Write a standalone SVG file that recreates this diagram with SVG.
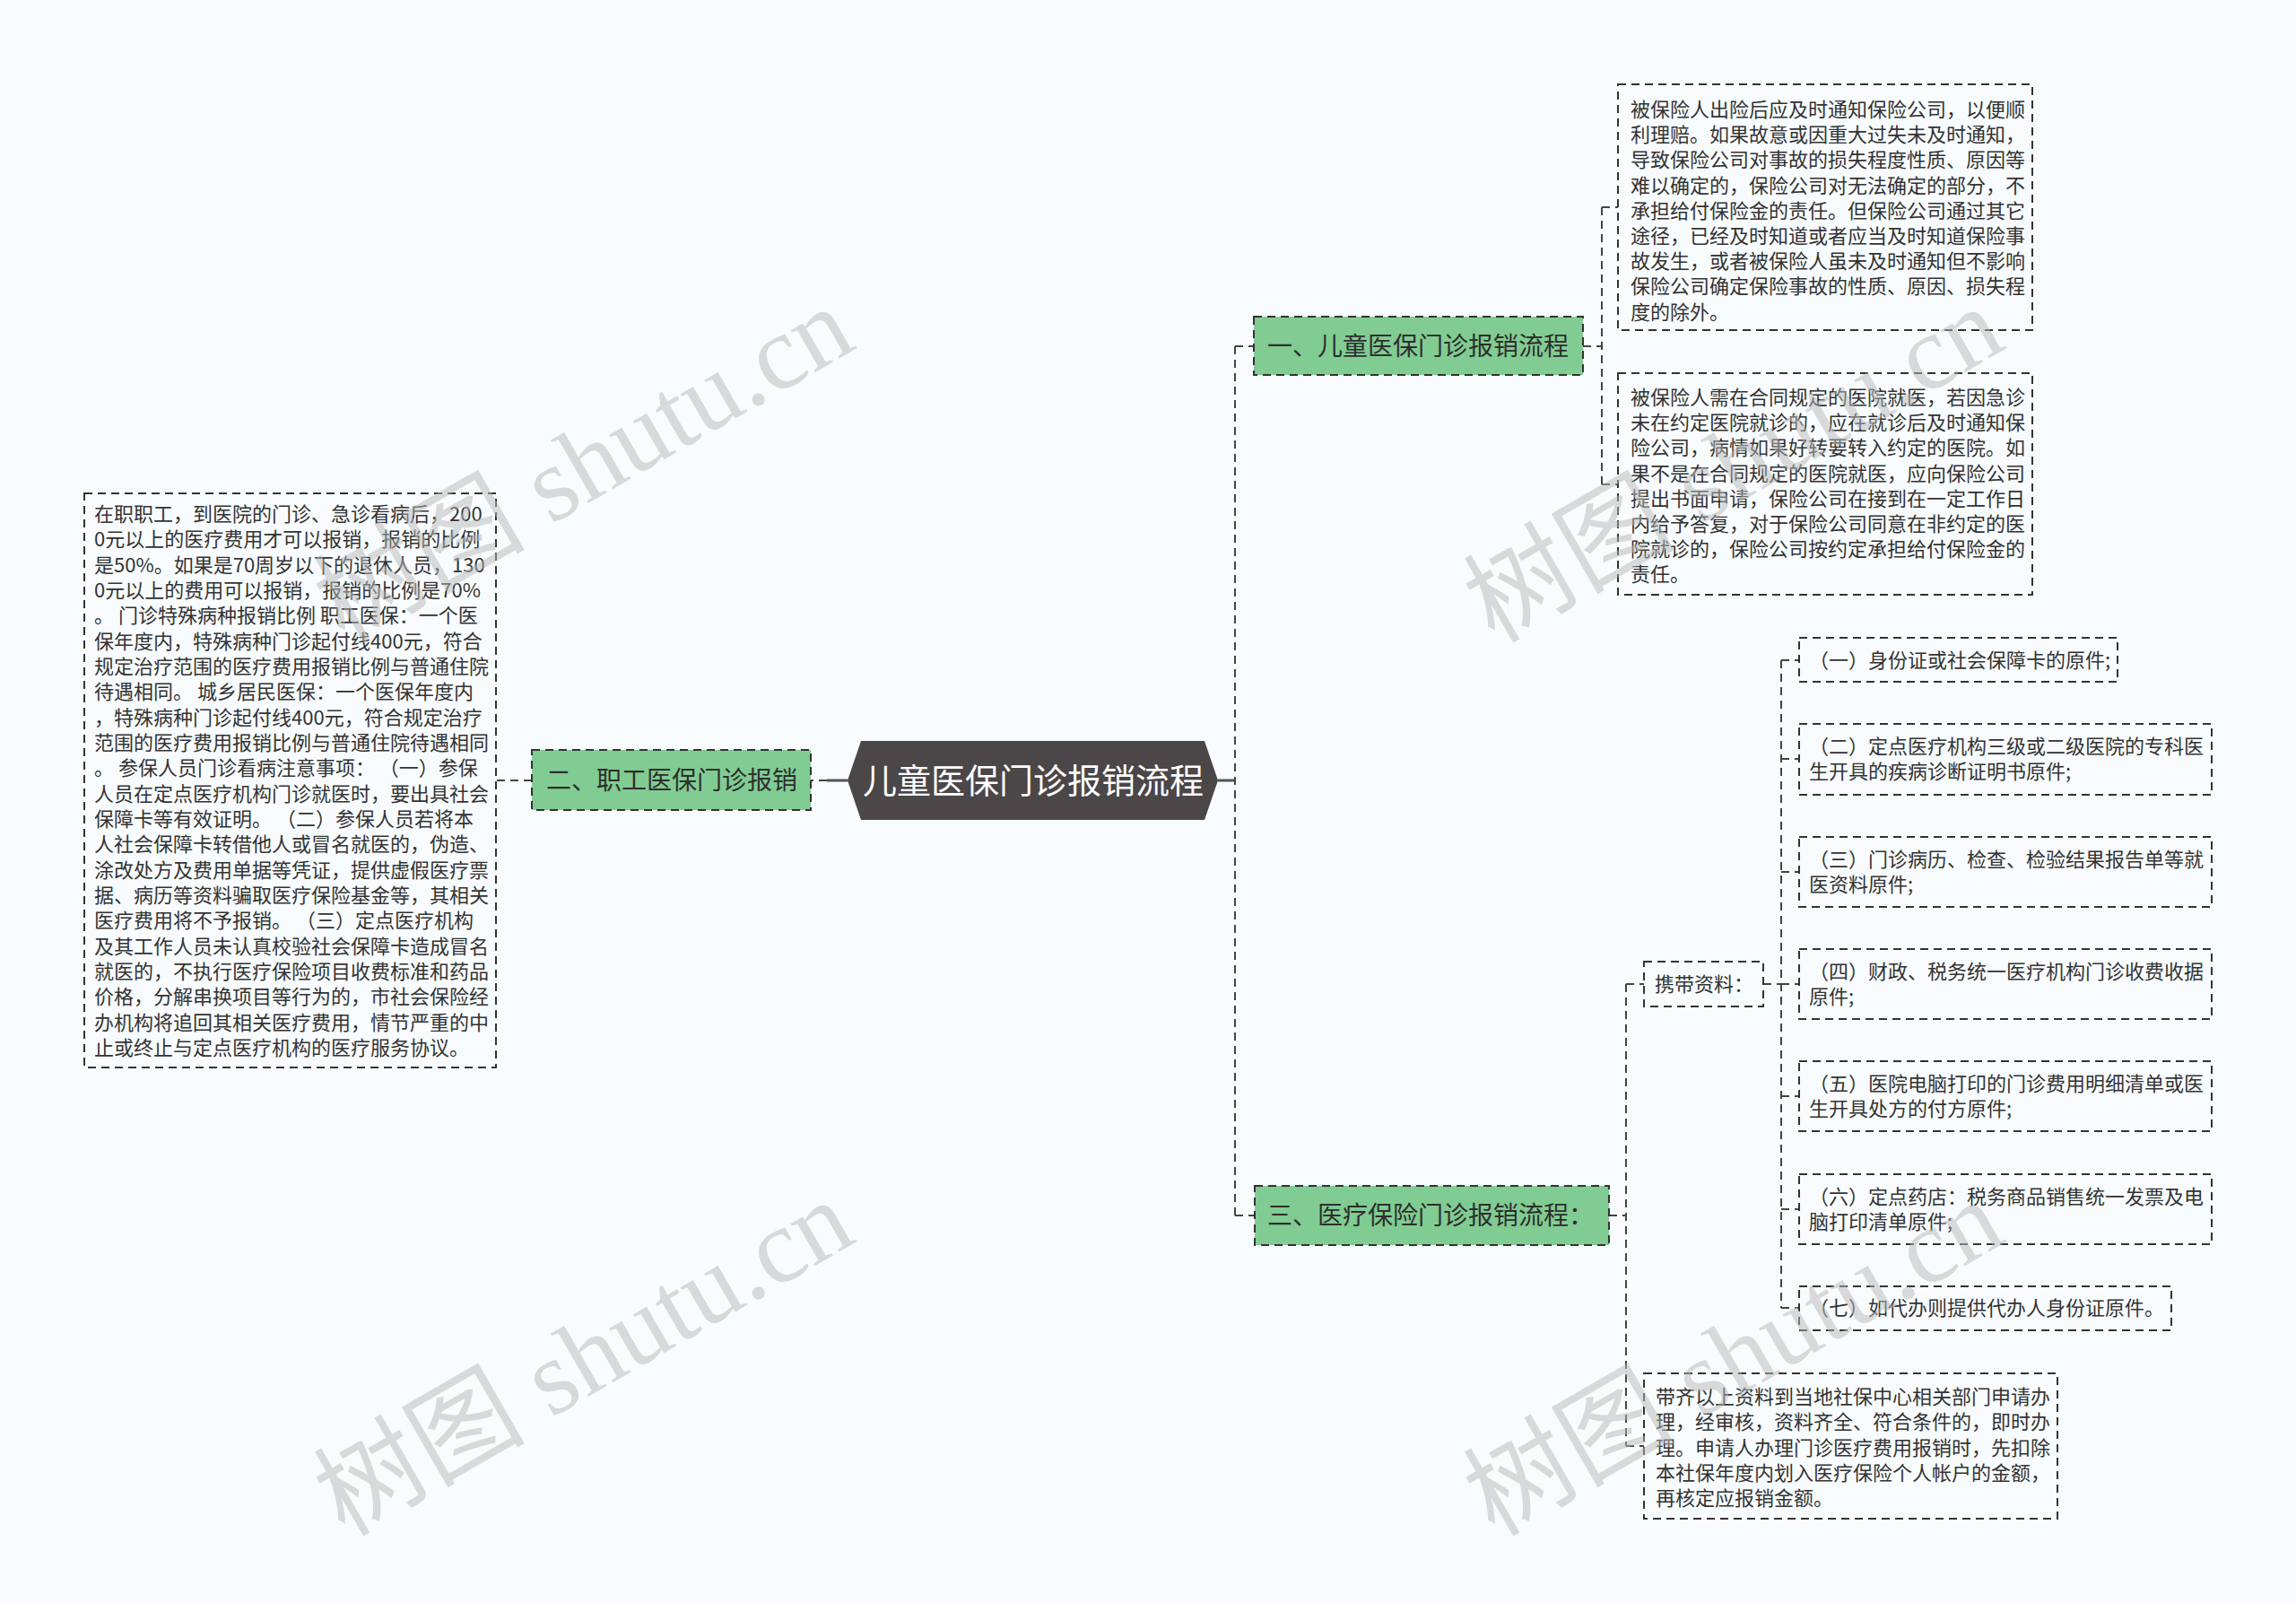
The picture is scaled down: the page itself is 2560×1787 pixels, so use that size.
<svg xmlns="http://www.w3.org/2000/svg" width="2560" height="1787" viewBox="0 0 2560 1787">
<style>
.bg{fill:#f8fcfe}
.box{fill:#f8fcfe;stroke:#333;stroke-width:2;stroke-dasharray:9 6}
.grn{fill:#80cc92;stroke:#333;stroke-width:2;stroke-dasharray:9 6}
.root{fill:#4b4647}
.t{font-family:"Noto Sans CJK SC","Noto Sans",sans-serif;font-size:22px;fill:#333}
.tb{font-family:"Noto Sans CJK SC","Noto Sans",sans-serif;font-size:28px;fill:#2e2e2e}
.tr{font-family:"Noto Sans CJK SC","Noto Sans",sans-serif;font-size:38px;fill:#ffffff}
.c{fill:none;stroke:#444;stroke-width:2;stroke-dasharray:9 6}
.cs{fill:none;stroke:#555;stroke-width:3}
.wm{font-family:"Liberation Serif","Noto Sans CJK SC",serif;font-size:118px;fill:#b8b8b8;opacity:0.5}
</style>
<rect class="bg" x="0" y="0" width="2560" height="1787"/>

<g id="connectors">
<line class="cs" x1="1358" y1="870" x2="1377" y2="870"/>
<line class="c" x1="1377" y1="386" x2="1377" y2="1355"/>
<line class="c" x1="1377" y1="386" x2="1398" y2="386"/>
<line class="c" x1="1377" y1="1355" x2="1399" y2="1355"/>
<line class="c" x1="1765" y1="386" x2="1786" y2="386"/>
<line class="c" x1="1786" y1="231" x2="1786" y2="540"/>
<line class="c" x1="1786" y1="231" x2="1804" y2="231"/>
<line class="c" x1="1786" y1="540" x2="1804" y2="540"/>
<line class="c" x1="1794" y1="1355" x2="1813" y2="1355"/>
<line class="c" x1="1813" y1="1097" x2="1813" y2="1612"/>
<line class="c" x1="1813" y1="1097" x2="1833" y2="1097"/>
<line class="c" x1="1813" y1="1612" x2="1833" y2="1612"/>
<line class="c" x1="1966" y1="1097" x2="1986" y2="1097"/>
<line class="c" x1="1986" y1="736" x2="1986" y2="1458"/>
<line class="c" x1="1986" y1="736" x2="2006" y2="736"/>
<line class="c" x1="1986" y1="846" x2="2006" y2="846"/>
<line class="c" x1="1986" y1="972" x2="2006" y2="972"/>
<line class="c" x1="1986" y1="1097" x2="2006" y2="1097"/>
<line class="c" x1="1986" y1="1222" x2="2006" y2="1222"/>
<line class="c" x1="1986" y1="1348" x2="2006" y2="1348"/>
<line class="c" x1="1986" y1="1458" x2="2006" y2="1458"/>
<line class="cs" x1="945" y1="870" x2="922" y2="870"/>
<line class="c" x1="922" y1="870" x2="904" y2="870"/>
<line class="c" x1="593" y1="870" x2="553" y2="870"/>
</g>

<g id="root">
<polygon class="root" points="945,870 960,826 1343,826 1358,870 1343,914 960,914"/>
<text class="tr" x="1152" y="884" text-anchor="middle">儿童医保门诊报销流程</text>
</g>

<g id="branch-left">
<rect class="grn" x="593" y="836" width="311" height="67"/>
<text class="tb" x="609" y="880">二、职工医保门诊报销</text>
</g>

<g id="left-detail">
<rect class="box" x="94" y="550" width="459" height="640"/>
<text class="t">
<tspan x="105" y="581">在职职工，到医院的门诊、急诊看病后，200</tspan>
<tspan x="105" y="609.3">0元以上的医疗费用才可以报销，报销的比例</tspan>
<tspan x="105" y="637.7">是50%。如果是70周岁以下的退休人员，130</tspan>
<tspan x="105" y="666">0元以上的费用可以报销，报销的比例是70%</tspan>
<tspan x="105" y="694.3">。 门诊特殊病种报销比例 职工医保：一个医</tspan>
<tspan x="105" y="722.7">保年度内，特殊病种门诊起付线400元，符合</tspan>
<tspan x="105" y="751">规定治疗范围的医疗费用报销比例与普通住院</tspan>
<tspan x="105" y="779.3">待遇相同。 城乡居民医保：一个医保年度内</tspan>
<tspan x="105" y="807.7">，特殊病种门诊起付线400元，符合规定治疗</tspan>
<tspan x="105" y="836">范围的医疗费用报销比例与普通住院待遇相同</tspan>
<tspan x="105" y="864.3">。 参保人员门诊看病注意事项： （一）参保</tspan>
<tspan x="105" y="892.7">人员在定点医疗机构门诊就医时，要出具社会</tspan>
<tspan x="105" y="921">保障卡等有效证明。 （二）参保人员若将本</tspan>
<tspan x="105" y="949.3">人社会保障卡转借他人或冒名就医的，伪造、</tspan>
<tspan x="105" y="977.7">涂改处方及费用单据等凭证，提供虚假医疗票</tspan>
<tspan x="105" y="1006">据、病历等资料骗取医疗保险基金等，其相关</tspan>
<tspan x="105" y="1034.3">医疗费用将不予报销。 （三）定点医疗机构</tspan>
<tspan x="105" y="1062.7">及其工作人员未认真校验社会保障卡造成冒名</tspan>
<tspan x="105" y="1091">就医的，不执行医疗保险项目收费标准和药品</tspan>
<tspan x="105" y="1119.3">价格，分解串换项目等行为的，市社会保险经</tspan>
<tspan x="105" y="1147.7">办机构将追回其相关医疗费用，情节严重的中</tspan>
<tspan x="105" y="1176">止或终止与定点医疗机构的医疗服务协议。</tspan>
</text>
</g>

<g id="branch-1">
<rect class="grn" x="1398" y="353" width="367" height="65"/>
<text class="tb" x="1413" y="396">一、儿童医保门诊报销流程</text>
</g>

<g id="detail-1">
<rect class="box" x="1804" y="94" width="462" height="274"/>
<text class="t">
<tspan x="1818" y="130">被保险人出险后应及时通知保险公司，以便顺</tspan>
<tspan x="1818" y="158.2">利理赔。如果故意或因重大过失未及时通知，</tspan>
<tspan x="1818" y="186.4">导致保险公司对事故的损失程度性质、原因等</tspan>
<tspan x="1818" y="214.6">难以确定的，保险公司对无法确定的部分，不</tspan>
<tspan x="1818" y="242.8">承担给付保险金的责任。但保险公司通过其它</tspan>
<tspan x="1818" y="271">途径，已经及时知道或者应当及时知道保险事</tspan>
<tspan x="1818" y="299.2">故发生，或者被保险人虽未及时通知但不影响</tspan>
<tspan x="1818" y="327.4">保险公司确定保险事故的性质、原因、损失程</tspan>
<tspan x="1818" y="355.6">度的除外。</tspan>
</text>
</g>

<g id="detail-2">
<rect class="box" x="1804" y="416" width="462" height="247"/>
<text class="t">
<tspan x="1818" y="451">被保险人需在合同规定的医院就医，若因急诊</tspan>
<tspan x="1818" y="479.2">未在约定医院就诊的，应在就诊后及时通知保</tspan>
<tspan x="1818" y="507.4">险公司，病情如果好转要转入约定的医院。如</tspan>
<tspan x="1818" y="535.6">果不是在合同规定的医院就医，应向保险公司</tspan>
<tspan x="1818" y="563.8">提出书面申请，保险公司在接到在一定工作日</tspan>
<tspan x="1818" y="592">内给予答复，对于保险公司同意在非约定的医</tspan>
<tspan x="1818" y="620.2">院就诊的，保险公司按约定承担给付保险金的</tspan>
<tspan x="1818" y="648.4">责任。</tspan>
</text>
</g>

<g id="branch-3">
<rect class="grn" x="1399" y="1322" width="395" height="66"/>
<text class="tb" x="1413" y="1365">三、医疗保险门诊报销流程：</text>
</g>

<g id="carry">
<rect class="box" x="1833" y="1072" width="133" height="50"/>
<text class="t" x="1845" y="1105">携带资料：</text>
</g>

<g id="item-1">
<rect class="box" x="2006" y="711" width="355" height="49"/>
<text class="t" x="2017" y="744">（一）身份证或社会保障卡的原件;</text>
</g>
<g id="item-2">
<rect class="box" x="2006" y="807" width="460" height="79"/>
<text class="t"><tspan x="2017" y="840">（二）定点医疗机构三级或二级医院的专科医</tspan><tspan x="2017" y="868">生开具的疾病诊断证明书原件;</tspan></text>
</g>
<g id="item-3">
<rect class="box" x="2006" y="933" width="460" height="78"/>
<text class="t"><tspan x="2017" y="966">（三）门诊病历、检查、检验结果报告单等就</tspan><tspan x="2017" y="994">医资料原件;</tspan></text>
</g>
<g id="item-4">
<rect class="box" x="2006" y="1058" width="460" height="78"/>
<text class="t"><tspan x="2017" y="1091">（四）财政、税务统一医疗机构门诊收费收据</tspan><tspan x="2017" y="1119">原件;</tspan></text>
</g>
<g id="item-5">
<rect class="box" x="2006" y="1183" width="460" height="78"/>
<text class="t"><tspan x="2017" y="1216">（五）医院电脑打印的门诊费用明细清单或医</tspan><tspan x="2017" y="1244">生开具处方的付方原件;</tspan></text>
</g>
<g id="item-6">
<rect class="box" x="2006" y="1309" width="460" height="78"/>
<text class="t"><tspan x="2017" y="1342">（六）定点药店：税务商品销售统一发票及电</tspan><tspan x="2017" y="1370">脑打印清单原件;</tspan></text>
</g>
<g id="item-7">
<rect class="box" x="2006" y="1434" width="415" height="49"/>
<text class="t" x="2017" y="1466">（七）如代办则提供代办人身份证原件。</text>
</g>

<g id="detail-3">
<rect class="box" x="1833" y="1531" width="461" height="162"/>
<text class="t">
<tspan x="1846" y="1565">带齐以上资料到当地社保中心相关部门申请办</tspan>
<tspan x="1846" y="1593.3">理，经审核，资料齐全、符合条件的，即时办</tspan>
<tspan x="1846" y="1621.5">理。申请人办理门诊医疗费用报销时，先扣除</tspan>
<tspan x="1846" y="1649.8">本社保年度内划入医疗保险个人帐户的金额，</tspan>
<tspan x="1846" y="1678">再核定应报销金额。</tspan>
</text>
</g>

<g id="watermarks">
<text class="wm" transform="translate(384,718) rotate(-30)">树图 shutu.cn</text>
<text class="wm" transform="translate(384,1714) rotate(-30)">树图 shutu.cn</text>
<text class="wm" transform="translate(1666,718) rotate(-30)">树图 shutu.cn</text>
<text class="wm" transform="translate(1666,1714) rotate(-30)">树图 shutu.cn</text>
</g>
</svg>
